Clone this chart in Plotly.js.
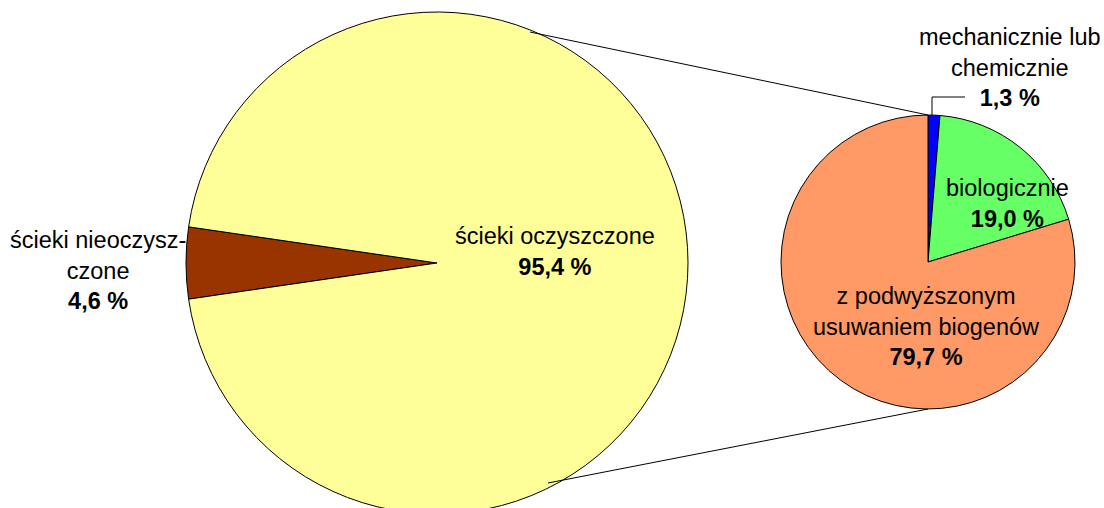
<!DOCTYPE html>
<html>
<head>
<meta charset="utf-8">
<script src="https://cdn.plot.ly/plotly-3.0.1.min.js"></script>
<style>
html, body { margin: 0; padding: 0; overflow: hidden; background: #fff; }
#chart { width: 1104px; height: 526px; }
</style>
</head>
<body>
<div id="chart"></div>
<script>
// Outer pie: all wastewater
const mainLabels = ['ścieki nieoczyszczone', 'ścieki oczyszczone'];
const mainLabelLines = [['ścieki nieoczysz-', 'czone'], ['ścieki oczyszczone']];
const mainValues = [4.6, 95.4];
const mainColors = ['#993300', '#FFFF99'];

// Detail pie: treated wastewater by treatment type
const detailLabels = ['mechanicznie lub chemicznie', 'biologicznie', 'z podwyższonym usuwaniem biogenów'];
const detailLabelLines = [['mechanicznie lub', 'chemicznie'], ['biologicznie'], ['z podwyższonym', 'usuwaniem biogenów']];
const detailValues = [1.3, 19.0, 79.7];
const detailColors = ['#0000FF', '#66FF66', '#FF9966'];

const W = 1104, H = 526;
const px = x => x / W;
const py = y => 1 - y / H;

function fmt(v) { return v.toFixed(1).replace('.', ',') + ' %'; }
function labelText(lines, v) { return lines.join('<br>') + '<br><b>' + fmt(v) + '</b>'; }

const font = { family: 'Arial, "Liberation Sans", sans-serif', size: 23.5, color: '#000' };

const traces = [
  {
    type: 'pie',
    labels: mainLabels,
    values: mainValues,
    marker: { colors: mainColors, line: { color: '#000', width: 1 } },
    sort: false,
    direction: 'clockwise',
    rotation: 261.72,
    textinfo: 'none',
    hoverinfo: 'label+value',
    domain: { x: [px(186), px(688)], y: [py(514), py(12)] },
    showlegend: false
  },
  {
    type: 'pie',
    labels: detailLabels,
    values: detailValues,
    marker: { colors: detailColors, line: { color: '#000', width: 1 } },
    sort: false,
    direction: 'clockwise',
    rotation: 0,
    textinfo: 'none',
    hoverinfo: 'label+value',
    domain: { x: [px(781), px(1075)], y: [py(409), py(115)] },
    showlegend: false
  }
];

const annPos = {
  main: [[98, 270], [555, 251]],
  detail: [[1010, 67], [1007, 203], [926, 326]]
};

const annotations = [];
mainValues.forEach((v, i) => annotations.push({
  x: px(annPos.main[i][0]), y: py(annPos.main[i][1]), xref: 'paper', yref: 'paper',
  text: labelText(mainLabelLines[i], v), showarrow: false, font: font,
  xanchor: 'center', yanchor: 'middle', align: 'center'
}));
detailValues.forEach((v, i) => annotations.push({
  x: px(annPos.detail[i][0]), y: py(annPos.detail[i][1]), xref: 'paper', yref: 'paper',
  text: labelText(detailLabelLines[i], v), showarrow: false, font: font,
  xanchor: 'center', yanchor: 'middle', align: 'center'
}));

const lineStyle = { color: '#000', width: 1 };
const shapes = [
  { type: 'line', xref: 'paper', yref: 'paper', x0: px(530), y0: py(32), x1: px(928), y1: py(115), line: lineStyle },
  { type: 'line', xref: 'paper', yref: 'paper', x0: px(548), y0: py(483), x1: px(928), y1: py(409), line: lineStyle },
  { type: 'path', xref: 'paper', yref: 'paper',
    path: 'M ' + px(932) + ' ' + py(115) + ' L ' + px(932) + ' ' + py(97) + ' L ' + px(965) + ' ' + py(97),
    line: lineStyle }
];

const layout = {
  width: W, height: H,
  margin: { l: 0, r: 0, t: 0, b: 0 },
  paper_bgcolor: '#fff',
  showlegend: false,
  annotations: annotations,
  shapes: shapes
};

Plotly.newPlot('chart', traces, layout, { displayModeBar: false, staticPlot: true });
</script>
</body>
</html>
